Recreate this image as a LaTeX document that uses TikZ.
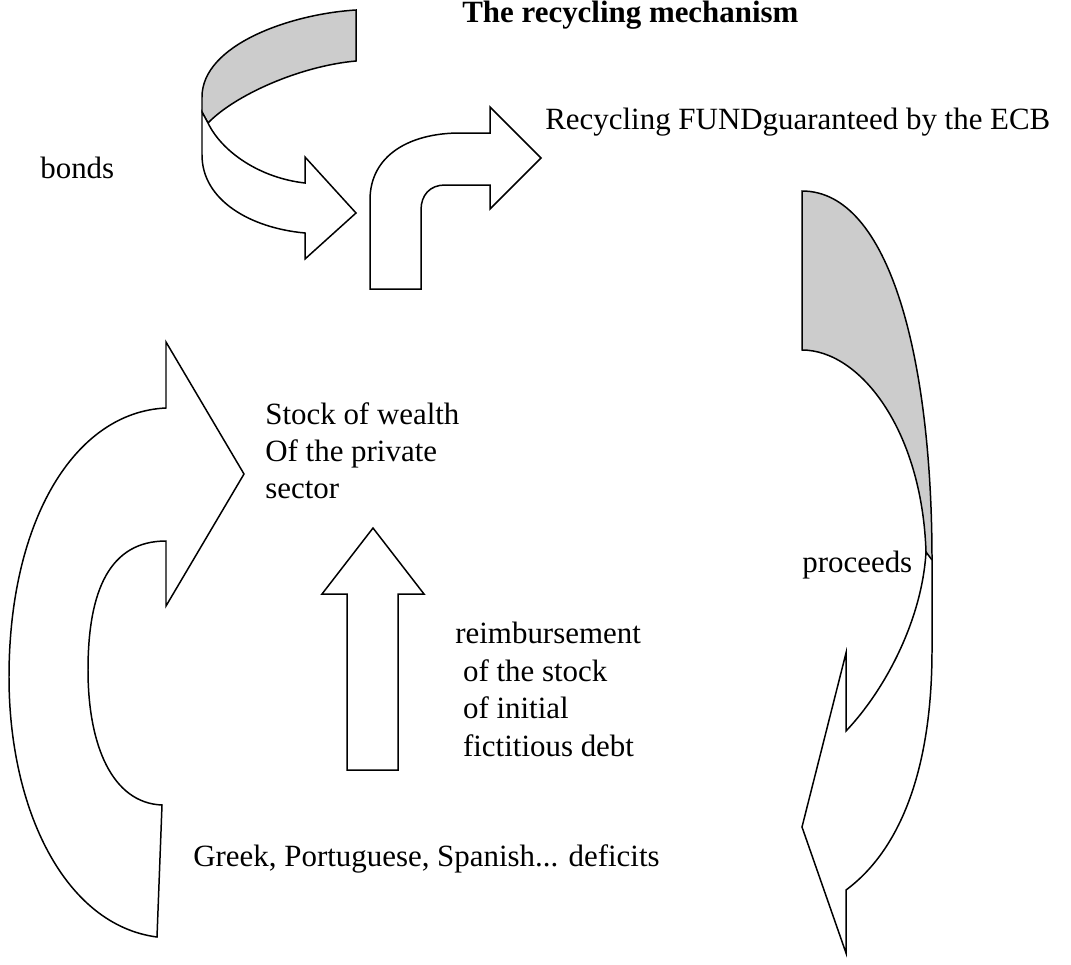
\documentclass[tikz,border=0pt]{standalone}
\usepackage{fontspec}
\setmainfont{Liberation Serif}
\definecolor{bandgray}{HTML}{CCCCCC}
\tikzset{
  arrowshape/.style={draw,line width=0.85pt,fill=white,line join=miter},
  backside/.style={arrowshape,fill=bandgray},
  lbl/.style={inner sep=0pt,font=\fontsize{17.6}{21.3}\selectfont},
}
\begin{document}
\begin{tikzpicture}[x=0.02cm,y=-0.02cm]
\useasboundingbox (0,0) rectangle (1071,964);
% curved arrow top left
\draw[backside] (356,10) .. controls (290,14) and (202,45) .. (202,97) -- (202,112) -- (208,123) .. controls (235,95) and (300,66) .. (356,61) -- cycle;
\draw[arrowshape] (208,123) -- (202,112) -- (202,155) .. controls (202,200) and (250,228) .. (305,233) -- (305,259) -- (356,213) -- (305,157) -- (305,183) .. controls (260,178) and (222,152) .. (208,123) -- cycle;
% bent arrow
\draw[arrowshape] (370,289) -- (370,200) .. controls (370,155) and (410,133) .. (460,133) -- (490,133) -- (490,107) -- (541,158) -- (490,209) -- (490,185) -- (445,185) .. controls (430,185) and (421,195) .. (421,210) -- (421,289) -- cycle;
% curved arrow right
\draw[backside] (802,191) .. controls (890,191) and (932,360) .. (932,560) -- (932,600) -- (926,552) .. controls (922,430) and (860,350) .. (802,350) -- cycle;
\draw[arrowshape] (926,552) .. controls (922,620) and (885,690) .. (846,731) -- (846,653) -- (802,827) -- (846,953) -- (846,890) .. controls (900,850) and (932,770) .. (932,650) -- (932,560) -- cycle;
% curved arrow left
\draw[arrowshape] (166,408) -- (166,342) -- (244,474) -- (166,606) -- (166,541) .. controls (110,541) and (88,590) .. (88,670) .. controls (88,745) and (112,803) .. (162,805) -- (157,937) .. controls (65,925) and (9,810) .. (9,677) .. controls (9,520) and (75,412) .. (166,408) -- cycle;
% up arrow
\draw[arrowshape] (347,770) -- (347,594) -- (322,594) -- (373,528) -- (424,594) -- (398,594) -- (398,770) -- cycle;
\node[lbl,font=\fontsize{17.6}{21.3}\selectfont\bfseries,anchor=base west] (title) at (462,22) {The recycling mechanism};
\node[lbl,anchor=base west] (fund) at (545,129) {Recycling FUNDguaranteed by the ECB};
\node[lbl,anchor=base west] (bonds) at (40,178) {bonds};
\node[lbl,anchor=north west,align=left] (stock) at (265,402) {Stock of wealth\\Of the private\\sector};
\node[lbl,anchor=base west] (proceeds) at (802,572) {proceeds};
\node[lbl,anchor=north west,align=left] (reimb) at (455,622) {reimbursement\\~of the stock\\~of initial\\~fictitious debt};
\node[lbl,anchor=base west] (deficits) at (193,866) {Greek, Portuguese, Spanish... deficits};
\end{tikzpicture}
\end{document}
